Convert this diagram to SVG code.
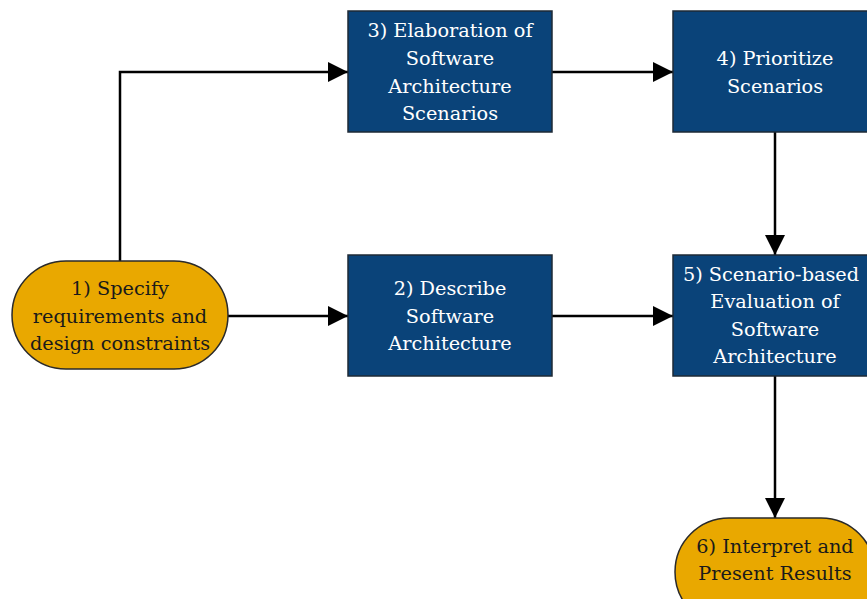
<svg xmlns="http://www.w3.org/2000/svg" width="867" height="599" viewBox="0 0 867 599">
  <style>
    .step { fill: #0a4379; stroke: #1e2a36; stroke-width: 1.5; }
    .term { fill: #e9a800; stroke: #2a2a2a; stroke-width: 1.5; }
    .lbl { font-family: "DejaVu Serif", "Liberation Serif", serif; font-size: 19.3px; text-anchor: middle; dominant-baseline: central; }
    .step-t { fill: #ffffff; }
    .term-t { fill: #1a1a1a; }
    .edge { fill: none; stroke: #000; stroke-width: 2.5; }
  </style>
  <defs>
    <marker id="arr" viewBox="0 0 10 10" refX="10" refY="5" markerWidth="8" markerHeight="8" markerUnits="strokeWidth" orient="auto">
      <path d="M0,0 L10,5 L0,10 z" fill="#000"/>
    </marker>
  </defs>
  <rect width="867" height="599" fill="#fff"/>

  <g id="connectors">
    <path class="edge" d="M120,261 V72 H348" marker-end="url(#arr)"/>
    <path class="edge" d="M228,316 H348" marker-end="url(#arr)"/>
    <path class="edge" d="M552,72 H673" marker-end="url(#arr)"/>
    <path class="edge" d="M552,316 H673" marker-end="url(#arr)"/>
    <path class="edge" d="M775,132 V255" marker-end="url(#arr)"/>
    <path class="edge" d="M775,376 V518" marker-end="url(#arr)"/>
  </g>

  <g id="n1">
    <rect class="term" x="12" y="261" width="216" height="108" rx="54"/>
    <text class="lbl term-t"><tspan x="120" y="288">1) Specify</tspan><tspan x="120" y="316">requirements and</tspan><tspan x="120" y="343">design constraints</tspan></text>
  </g>
  <g id="n2">
    <rect class="step" x="348" y="255" width="204" height="121"/>
    <text class="lbl step-t"><tspan x="450" y="288">2) Describe</tspan><tspan x="450" y="316">Software</tspan><tspan x="450" y="343">Architecture</tspan></text>
  </g>
  <g id="n3">
    <rect class="step" x="348" y="11" width="204" height="121"/>
    <text class="lbl step-t"><tspan x="450" y="30">3) Elaboration of</tspan><tspan x="450" y="58">Software</tspan><tspan x="450" y="86">Architecture</tspan><tspan x="450" y="113">Scenarios</tspan></text>
  </g>
  <g id="n4">
    <rect class="step" x="673" y="11" width="204" height="121"/>
    <text class="lbl step-t"><tspan x="775" y="58">4) Prioritize</tspan><tspan x="775" y="86">Scenarios</tspan></text>
  </g>
  <g id="n5">
    <rect class="step" x="673" y="255" width="204" height="121"/>
    <text class="lbl step-t"><tspan x="771" y="274">5) Scenario-based</tspan><tspan x="775" y="301">Evaluation of</tspan><tspan x="775" y="329">Software</tspan><tspan x="775" y="356">Architecture</tspan></text>
  </g>
  <g id="n6">
    <rect class="term" x="675" y="518" width="200" height="108" rx="54"/>
    <text class="lbl term-t"><tspan x="775" y="546">6) Interpret and</tspan><tspan x="775" y="573">Present Results</tspan></text>
  </g>
</svg>
